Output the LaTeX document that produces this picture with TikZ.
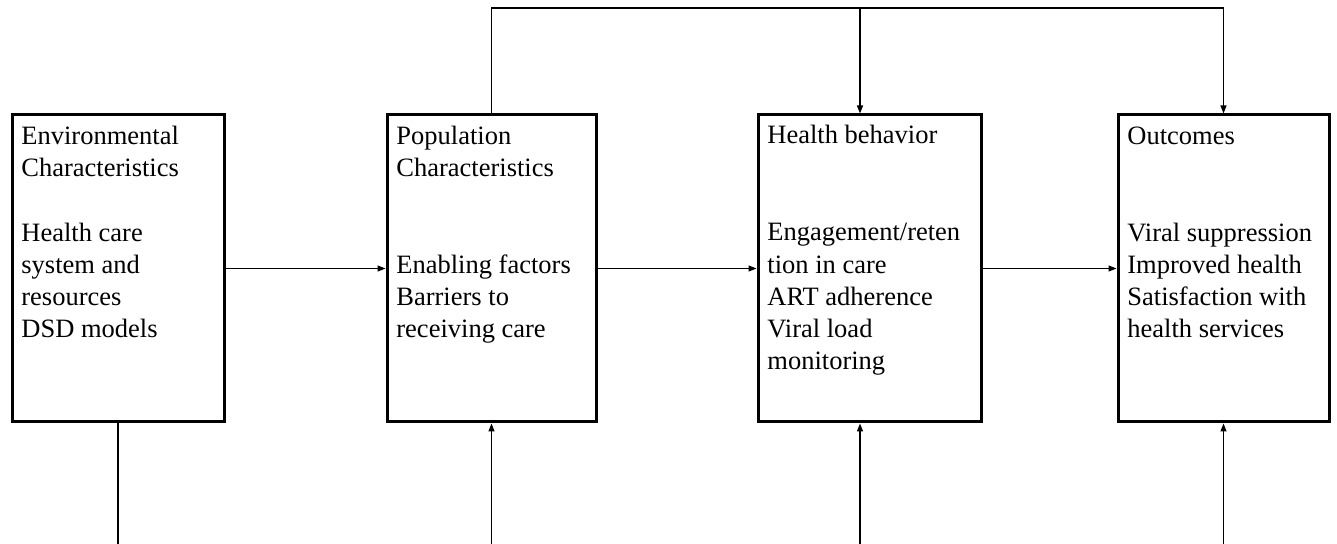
\documentclass[tikz,border=0pt]{standalone}
\usepackage{fontspec}
\setmainfont{Liberation Serif}
\usetikzlibrary{arrows.meta}
\begin{document}
\begin{tikzpicture}[x=0.5pt,y=-0.5pt,
  box/.style={draw,line width=1.5pt,inner sep=0pt,anchor=north west,minimum height=153.5pt},
  txt/.style={anchor=base west,align=left,inner sep=0pt,font=\fontsize{13.25pt}{16.15pt}\selectfont},
  link/.style={line width=0.6pt},
  arr/.style={link,-{Triangle[length=4pt,width=3pt]}}]
\useasboundingbox (0,0) rectangle (1337,544);
\node[box,minimum width=106pt] (env) at (10.5,113.5) {};
\node[box,minimum width=104.5pt] (pop) at (385.5,113.5) {};
\node[box,minimum width=111.5pt] (hb) at (756.5,113.5) {};
\node[box,minimum width=105.5pt] (out) at (1116.5,113.5) {};
\node[txt] (envtxt) at (21,338) {Environmental\\Characteristics\\[\baselineskip]Health care\\system and\\resources\\DSD models};
\node[txt] (poptxt) at (396,338) {Population\\Characteristics\\[2\baselineskip]Enabling factors\\Barriers to\\receiving care};
\node[txt] (hbtxt) at (767,370) {Health behavior\\[2\baselineskip]Engagement/reten\\tion in care\\ART adherence\\Viral load\\monitoring};
\node[txt] (outtxt) at (1127,338) {Outcomes\\[2\baselineskip]Viral suppression\\Improved health\\Satisfaction with\\health services};
\draw[arr] (env.east) -- (pop.west);
\draw[arr] (pop.east) -- (hb.west);
\draw[arr] (hb.east) -- (out.west);
\coordinate (topM) at (860,8);
\coordinate (topR) at (out.north |- topM);
\draw[arr] (pop.north) |- (topR) -- (out.north);
\draw[arr] (topM) -- (topM |- hb.north);
\coordinate (botE) at (env.south |- 0,544);
\coordinate (botP) at (pop.south |- 0,544);
\coordinate (botH) at (860,544);
\coordinate (botO) at (out.south |- 0,544);
\draw[link] (env.south) -- (botE);
\draw[arr] (botP) -- (pop.south);
\draw[arr] (botH) -- (botH |- hb.south);
\draw[arr] (botO) -- (out.south);
\end{tikzpicture}
\end{document}
